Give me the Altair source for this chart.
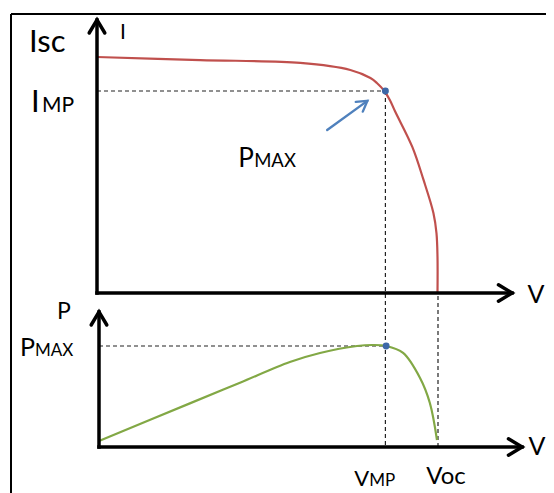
import altair as alt
import pandas as pd

# ---------------- data (normalised: Voc = 1, Isc = 1, Pmax = 1) ----------------
iv_v = [0.0, 0.303, 0.597, 0.744, 0.803, 0.822, 0.844, 0.860, 0.876, 0.926, 0.959, 0.988, 0.997, 1.0, 1.0]
iv_i = [1.0, 0.987, 0.975, 0.945, 0.911, 0.890, 0.856, 0.818, 0.768, 0.619, 0.479, 0.339, 0.254, 0.153, 0.0]

pv_v = [0.0, 0.268, 0.416, 0.563, 0.652, 0.761, 0.808, 0.847, 0.897, 0.947, 0.976, 0.997]
pv_p = [0.059, 0.432, 0.637, 0.842, 0.931, 1.0, 1.01, 1.0, 0.931, 0.683, 0.436, 0.069]

V_MP = 0.847
I_MP = 0.856
P_MAX = 1.0
V_OC = 1.0
I_SC = 1.0

# axis extents (arrow tips)
TOP_V_END = 1.219
TOP_I_END = 1.157
BOT_V_END = 1.248
BOT_P_END = 1.337

# pointer arrow towards the maximum power point
arrow_v = [0.676, 0.794]
arrow_i = [0.691, 0.814]

# ---------------- layout ----------------
W, H = 538, 485
M = 8
TOP = dict(x0=97, x1=437.5, y0=293, y1=57)    # page px of V=0, V=1, I=0, I=1
BOT = dict(x0=99, x1=438, y0=447, y1=346)     # page px of V=0, V=1, P=0, P=1


def xdom(p):
    p0, p1 = p["x0"] - M, p["x1"] - M
    k = p1 - p0
    return [-p0 / k, (W - p0) / k]


def ydom(p):
    q0, q1 = p["y0"] - M, p["y1"] - M
    k = q0 - q1
    return [-(H - q0) / k, q0 / k]


sx_t = alt.Scale(domain=xdom(TOP), nice=False, zero=False)
sy_t = alt.Scale(domain=ydom(TOP), nice=False, zero=False)
sx_b = alt.Scale(domain=xdom(BOT), nice=False, zero=False)
sy_b = alt.Scale(domain=ydom(BOT), nice=False, zero=False)

# level of the other panel's baseline, expressed in each panel's units
I_AT_BOT_AXIS = (TOP["y0"] - BOT["y0"]) / (TOP["y0"] - TOP["y1"])
P_AT_TOP_AXIS = (BOT["y0"] - TOP["y0"]) / (BOT["y0"] - BOT["y1"])

FONT = "Lato"
CHEVRON = "M-0.6,1L0,0L0.6,1"
DASH = [4, 3]
DASH_COL = "#222222"


def X(f, s):
    return alt.X(f"{f}:Q", scale=s, axis=None)


def Y(f, s):
    return alt.Y(f"{f}:Q", scale=s, axis=None)


def seg(df, sx, sy, **mk):
    return alt.Chart(df).mark_rule(**mk).encode(
        x=X("x", sx), x2="x2:Q", y=Y("y", sy), y2="y2:Q")


def label(text, x, y, sx, sy, size, dx, dy, align="left"):
    df = pd.DataFrame({"t": [text], "x": [x], "y": [y]})
    return alt.Chart(df).mark_text(
        font=FONT, fontSize=size, color="black", align=align,
        baseline="alphabetic", dx=dx, dy=dy).encode(
        x=X("x", sx), y=Y("y", sy), text="t:N")


def head(x, y, sx, sy, angle, size, color, sw):
    df = pd.DataFrame({"x": [x], "y": [y]})
    return alt.Chart(df).mark_point(
        shape=CHEVRON, filled=False, stroke=color, strokeWidth=sw,
        size=size, angle=angle, opacity=1, strokeJoin="miter",
        strokeCap="round").encode(x=X("x", sx), y=Y("y", sy))


layers = []

# outer frame
frame = pd.DataFrame({"k": [0]})
layers.append(alt.Chart(frame).mark_rule(color="black", strokeWidth=2).encode(
    x=alt.value(3), y=alt.value(6), y2=alt.value(H)))
layers.append(alt.Chart(frame).mark_rule(color="black", strokeWidth=2).encode(
    x=alt.value(3), x2=alt.value(W), y=alt.value(6)))

# dashed guide lines
dash_kw = dict(color=DASH_COL, strokeWidth=1.2, strokeDash=DASH)
layers.append(seg(pd.DataFrame({"x": [0.0], "x2": [V_MP], "y": [I_MP], "y2": [I_MP]}),
                  sx_t, sy_t, **dash_kw))
layers.append(seg(pd.DataFrame({"x": [V_MP], "x2": [V_MP], "y": [I_MP], "y2": [I_AT_BOT_AXIS]}),
                  sx_t, sy_t, **dash_kw))
layers.append(seg(pd.DataFrame({"x": [0.0], "x2": [V_MP], "y": [P_MAX], "y2": [P_MAX]}),
                  sx_b, sy_b, **dash_kw))
layers.append(seg(pd.DataFrame({"x": [V_OC], "x2": [V_OC], "y": [0.0], "y2": [P_AT_TOP_AXIS]}),
                  sx_b, sy_b, **dash_kw))

# curves
iv = pd.DataFrame({"x": iv_v, "y": iv_i, "o": list(range(len(iv_v)))})
layers.append(alt.Chart(iv).mark_line(color="#C0504D", strokeWidth=2.2,
                                      interpolate="catmull-rom").encode(
    x=X("x", sx_t), y=Y("y", sy_t), order="o:Q"))
pv = pd.DataFrame({"x": pv_v, "y": pv_p, "o": list(range(len(pv_v)))})
layers.append(alt.Chart(pv).mark_line(color="#82A845", strokeWidth=2.2,
                                      interpolate="catmull-rom").encode(
    x=X("x", sx_b), y=Y("y", sy_b), order="o:Q"))

# axes with arrow heads
ax_kw = dict(color="black", strokeWidth=3.5, strokeCap="square")
layers.append(seg(pd.DataFrame({"x": [0.0], "x2": [0.0], "y": [0.0], "y2": [TOP_I_END]}), sx_t, sy_t, **ax_kw))
layers.append(seg(pd.DataFrame({"x": [0.0], "x2": [TOP_V_END], "y": [0.0], "y2": [0.0]}), sx_t, sy_t, **ax_kw))
layers.append(seg(pd.DataFrame({"x": [0.0], "x2": [0.0], "y": [0.0], "y2": [BOT_P_END]}), sx_b, sy_b, **ax_kw))
layers.append(seg(pd.DataFrame({"x": [0.0], "x2": [BOT_V_END], "y": [0.0], "y2": [0.0]}), sx_b, sy_b, **ax_kw))
layers.append(head(0.0, TOP_I_END, sx_t, sy_t, 0, 680, "black", 3.5))
layers.append(head(TOP_V_END, 0.0, sx_t, sy_t, 90, 740, "black", 3.5))
layers.append(head(0.0, BOT_P_END, sx_b, sy_b, 0, 680, "black", 3.5))
layers.append(head(BOT_V_END, 0.0, sx_b, sy_b, 90, 740, "black", 3.5))

# pointer arrow
layers.append(seg(pd.DataFrame({"x": [arrow_v[0]], "x2": [arrow_v[1]],
                                "y": [arrow_i[0]], "y2": [arrow_i[1]]}),
                  sx_t, sy_t, color="#4F81BD", strokeWidth=2.4, strokeCap="round"))
layers.append(head(arrow_v[1], arrow_i[1], sx_t, sy_t, 54, 400, "#4F81BD", 2.4))

# maximum power points
layers.append(alt.Chart(pd.DataFrame({"x": [V_MP], "y": [I_MP]})).mark_circle(
    color="#3D68A8", size=48, opacity=1).encode(x=X("x", sx_t), y=Y("y", sy_t)))
layers.append(alt.Chart(pd.DataFrame({"x": [V_MP], "y": [P_MAX]})).mark_circle(
    color="#3D68A8", size=48, opacity=1).encode(x=X("x", sx_b), y=Y("y", sy_b)))

# labels
layers.append(label("Isc", 0.0, I_SC, sx_t, sy_t, 31, -68, -5))
layers.append(label("I", 0.0, I_MP, sx_t, sy_t, 31, -66, 21))
layers.append(label("MP", 0.0, I_MP, sx_t, sy_t, 21, -55, 21))
layers.append(label("I", 0.0, TOP_I_END, sx_t, sy_t, 21, 23, 19))
layers.append(label("V", TOP_V_END, 0.0, sx_t, sy_t, 25, 24, 10, align="center"))
layers.append(label("P", arrow_v[0], arrow_i[0], sx_t, sy_t, 26, -89, 37))
layers.append(label("MAX", arrow_v[0], arrow_i[0], sx_t, sy_t, 18.5, -73, 37))

layers.append(label("P", 0.0, BOT_P_END, sx_b, sy_b, 23, -42, 7))
layers.append(label("P", 0.0, P_MAX, sx_b, sy_b, 25, -79, 10))
layers.append(label("MAX", 0.0, P_MAX, sx_b, sy_b, 17, -64, 10))
layers.append(label("V", BOT_V_END, 0.0, sx_b, sy_b, 25, 15, 8, align="center"))
layers.append(label("V", V_MP, 0.0, sx_b, sy_b, 22, -32, 39))
layers.append(label("MP", V_MP, 0.0, sx_b, sy_b, 17, -17, 39))
layers.append(label("Voc", V_OC, 0.0, sx_b, sy_b, 24, 8, 37, align="center"))

chart = alt.layer(*layers).resolve_scale(x="independent", y="independent").properties(
    width=W, height=H,
    autosize=alt.AutoSizeParams(type="none"),
    padding=0,
).configure_view(stroke=None)

chart.save("out.html", embed_options={"renderer": "svg", "actions": False})
